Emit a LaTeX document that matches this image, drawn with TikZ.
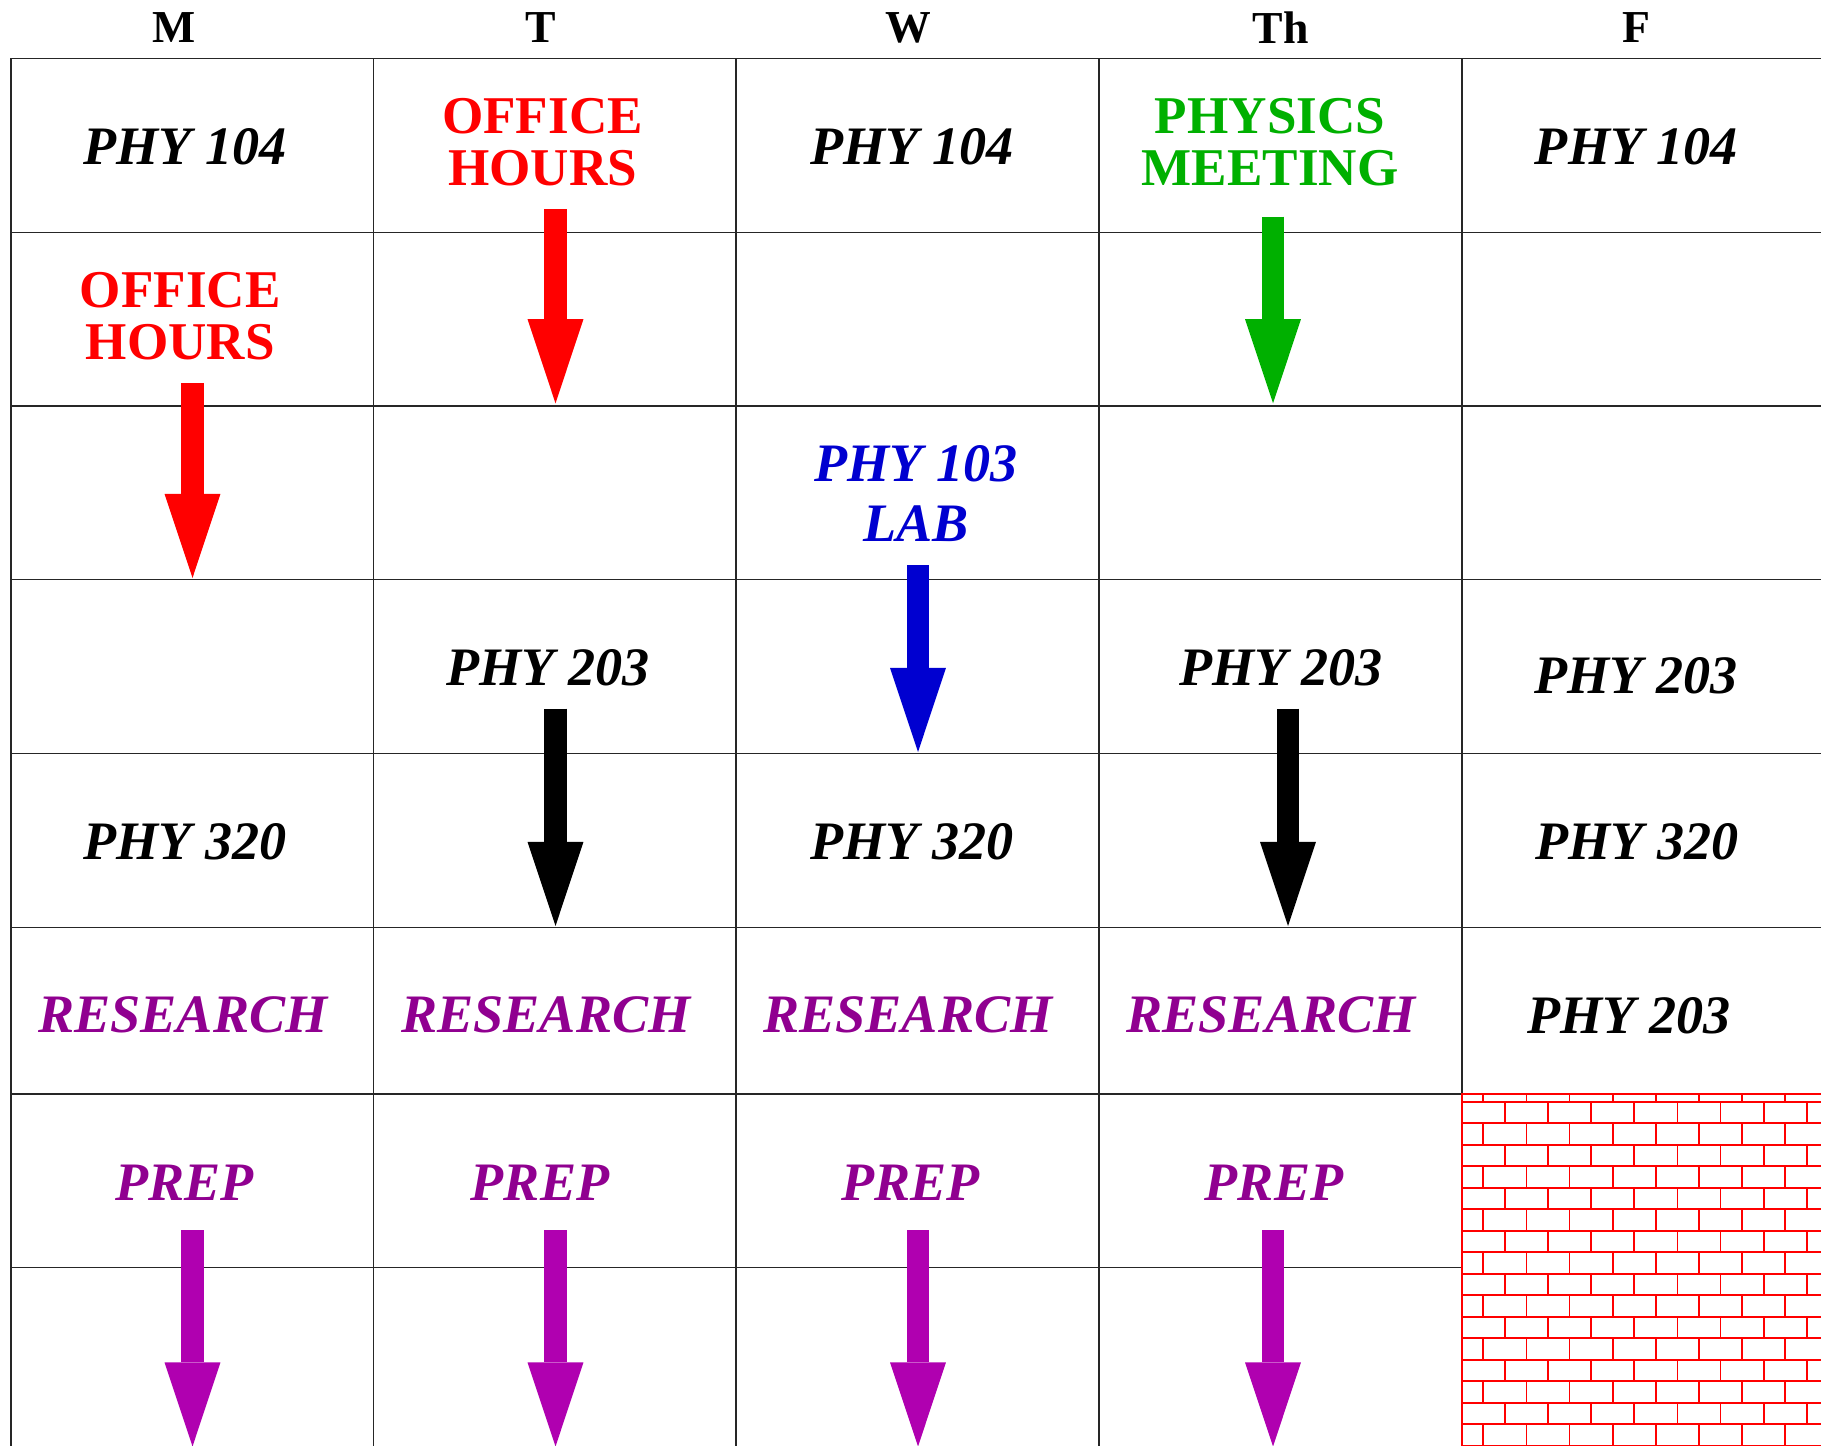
\documentclass[tikz,border=0pt]{standalone}
\usepackage{fontspec}
\setmainfont{Liberation Serif}
\usetikzlibrary{arrows.meta}
\definecolor{mtgreen}{RGB}{0,176,0}
\definecolor{labblue}{RGB}{0,0,208}
\definecolor{restext}{RGB}{144,0,144}
\definecolor{resarrow}{RGB}{176,0,176}
\begin{document}
\begin{tikzpicture}[x=0.01cm,y=-0.01cm,
		grid/.style={line width=0.4pt,black!85},
		brick/.style={line width=0.5pt,red},
		day/.style={font=\fontsize{13pt}{15pt}\selectfont\bfseries},
		course/.style={font=\fontsize{15.4pt}{17pt}\selectfont\bfseries\itshape,align=center},
		event/.style={font=\fontsize{15.1pt}{14.7pt}\selectfont\bfseries,align=center},
		span/.style={line width=6.46pt,-{Triangle[length=23.9pt,width=15.9pt,line width=0pt]}}]
				\useasboundingbox[fill=white] (0,0) rectangle (1821,1446);
				\foreach \y in {58.3,232.3,406,579.3,753.7,927.3,1094,1267.7}
					\draw [grid] (11,\y) -- (1821,\y);
				\foreach \x in {11,373.5,736,1099,1462}
					\draw [grid] (\x,58.3) -- (\x,1446);
				\fill [white] (1462,1094) rectangle (1821,1446);
				\begin{scope}
					\clip (1462,1094) rectangle (1821,1446);
					\foreach \b in {0,...,16} {
						\draw [brick] (1462,{1101.7+21.5*\b}) -- (1821,{1101.7+21.5*\b});
						\pgfmathsetmacro{\xs}{1483.3+21.7*mod(\b,2)}
						\foreach \j in {0,...,8}
							\draw [brick] ({\xs+43.1*\j},{1080.2+21.5*\b}) -- ({\xs+43.1*\j},{1101.7+21.5*\b});
					}
				\end{scope}
				\draw [brick] (1462,1446) -- (1462,1094) -- (1821,1094);
				\node [day] (M) at (174.5,28) {M};
				\node [day] (T) at (540.5,28) {T};
				\node [day] (W) at (908,28) {W};
				\node [day] (Th) at (1280.5,28) {Th};
				\node [day] (F) at (1636.5,28) {F};
				\node [course] (M1) at (185,146.3) {PHY 104};
				\node [course] (W1) at (912,146.3) {PHY 104};
				\node [course] (F1) at (1636.5,146.3) {PHY 104};
				\node [event,red] (T1) at (542.5,142) {OFFICE\\HOURS};
				\node [event,mtgreen] (Th1) at (1270,142) {PHYSICS\\MEETING};
				\node [event,red] (M2) at (180.2,316) {OFFICE\\HOURS};
				\node [course,labblue] (W3) at (916,493.3) {PHY 103\\LAB};
				\node [course] (T4) at (548,668) {PHY 203};
				\node [course] (Th4) at (1281,668) {PHY 203};
				\node [course] (F4) at (1636,675.5) {PHY 203};
				\node [course] (M5) at (185.3,841.7) {PHY 320};
				\node [course] (W5) at (912,842) {PHY 320};
				\node [course] (F5) at (1637,842) {PHY 320};
				\node [course,restext] (M6) at (183,1015.3) {RESEARCH};
				\node [course,restext] (T6) at (546,1015.3) {RESEARCH};
				\node [course,restext] (W6) at (908,1015.3) {RESEARCH};
				\node [course,restext] (Th6) at (1271,1015.3) {RESEARCH};
				\node [course] (F6) at (1628.8,1015.3) {PHY 203};
				\node [course,restext] (M7) at (184.7,1182.3) {PREP};
				\node [course,restext] (T7) at (540,1182.3) {PREP};
				\node [course,restext] (W7) at (910.5,1182.3) {PREP};
				\node [course,restext] (Th7) at (1274,1182.3) {PREP};
				\coordinate (T1a) at (555.5,209.3);
				\coordinate (T1b) at (555.5,403.3);
				\coordinate (Th1a) at (1273,216.7);
				\coordinate (Th1b) at (1273,403.3);
				\coordinate (M2a) at (192.5,383);
				\coordinate (M2b) at (192.5,578);
				\coordinate (W3a) at (918,565);
				\coordinate (W3b) at (918,752);
				\coordinate (T4a) at (555.5,708.5);
				\coordinate (T4b) at (555.5,926);
				\coordinate (Th4a) at (1288,708.5);
				\coordinate (Th4b) at (1288,926);
				\draw [span,red] (T1a) -- (T1b);
				\draw [span,mtgreen] (Th1a) -- (Th1b);
				\draw [span,red] (M2a) -- (M2b);
				\draw [span,labblue] (W3a) -- (W3b);
				\draw [span,black] (T4a) -- (T4b);
				\draw [span,black] (Th4a) -- (Th4b);
				\foreach \x/\n in {192.5/M7,555.5/T7,918/W7,1273/Th7} {
					\coordinate (\n a) at (\x,1230);
					\coordinate (\n b) at (\x,1446.5);
					\draw [span,resarrow] (\n a) -- (\n b);
				}
			\end{tikzpicture}
\end{document}
